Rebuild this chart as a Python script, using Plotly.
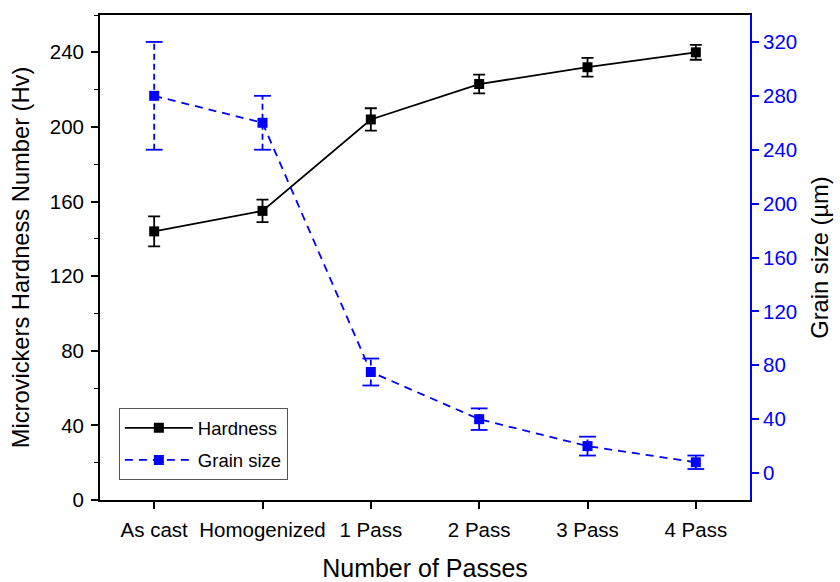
import plotly.graph_objects as go

categories = ["As cast", "Homogenized", "1 Pass", "2 Pass", "3 Pass", "4 Pass"]
hardness = [144, 155, 204, 223, 232, 240]
hardness_err = [8, 6, 6, 5, 5, 4]
grain = [280, 260, 75, 40, 20, 8]
grain_err = [40, 20, 10, 8, 7, 5]
left_ticks = [0, 40, 80, 120, 160, 200, 240]
right_ticks = [0, 40, 80, 120, 160, 200, 240, 280, 320]

FONT = "Liberation Sans, Arial, sans-serif"
BLUE = "#0000ff"

# dashed error stems for grain size, built from the data
stem_x, stem_y = [], []
cap_x, cap_y = [], []
for c, v, e in zip(categories, grain, grain_err):
    stem_x += [c, c, None]
    stem_y += [v - e, v + e, None]
    cap_x += [c, c]
    cap_y += [v - e, v + e]

fig = go.Figure()
fig.add_trace(go.Scatter(
    x=categories, y=hardness, name="Hardness", mode="lines+markers",
    legendgroup="a",
    line=dict(color="black", width=1.8),
    marker=dict(symbol="square", size=10, color="black"),
    error_y=dict(type="data", array=hardness_err, color="black", thickness=1.8, width=6),
))
fig.add_trace(go.Scatter(
    x=stem_x, y=stem_y, yaxis="y2", mode="lines", showlegend=False, hoverinfo="skip",
    legendgroup="b",
    line=dict(color=BLUE, width=1.8, dash="6px,4px"),
))
fig.add_trace(go.Scatter(
    x=cap_x, y=cap_y, yaxis="y2", mode="markers", showlegend=False, hoverinfo="skip",
    legendgroup="b",
    marker=dict(symbol="line-ew", size=12, line=dict(color=BLUE, width=1.8)),
))
fig.add_trace(go.Scatter(
    x=categories, y=grain, name="Grain size", mode="lines+markers", yaxis="y2",
    legendgroup="b",
    line=dict(color=BLUE, width=1.8, dash="8px,6px"),
    marker=dict(symbol="square", size=10, color=BLUE),
))

fig.update_layout(
    width=840, height=582,
    margin=dict(l=100, r=90, t=15, b=82),
    paper_bgcolor="white", plot_bgcolor="white",
    font=dict(family=FONT, size=20.5, color="black"),
    showlegend=True,
    legend=dict(x=0.029, y=0.189, xanchor="left", yanchor="top",
                bordercolor="#555555", borderwidth=1, bgcolor="white",
                font=dict(size=18.5), itemwidth=68, tracegroupgap=5,
                traceorder="grouped"),
    xaxis=dict(
        type="category", range=[-0.5, 5.5], automargin=False,
        showline=True, linecolor="black", linewidth=1.8, mirror=True,
        ticks="outside", ticklen=7, tickwidth=1.8, tickcolor="black",
        ticklabelstandoff=3,
        showgrid=False, zeroline=False,
        title=dict(text="Number of Passes", font=dict(size=25), standoff=21),
        tickfont=dict(size=20.5),
    ),
    yaxis=dict(
        range=[0, 260], tickvals=left_ticks, automargin=False,
        showline=True, linecolor="black", linewidth=1.8,
        ticks="outside", ticklen=7, tickwidth=1.8, tickcolor="black",
        ticklabelstandoff=3,
        minor=dict(ticks="outside", ticklen=4, tickwidth=1.4, dtick=20, tickcolor="black", showgrid=False),
        showgrid=False, zeroline=False,
        title=dict(text="Microvickers Hardness Number (Hv)", font=dict(size=23.7), standoff=13),
        tickfont=dict(size=20.5),
    ),
    yaxis2=dict(
        overlaying="y", side="right", anchor="x", automargin=False,
        range=[-20, 340], tickvals=right_ticks,
        showline=True, linecolor=BLUE, linewidth=1.8,
        ticks="outside", ticklen=7, tickwidth=1.8, tickcolor=BLUE,
        showgrid=False, zeroline=False,
        tickfont=dict(size=20.5, color=BLUE),
        title=dict(text="Grain size (\u00b5m)", font=dict(size=23.7, color="black"), standoff=15),
    ),
)

fig.write_html("out.html")
